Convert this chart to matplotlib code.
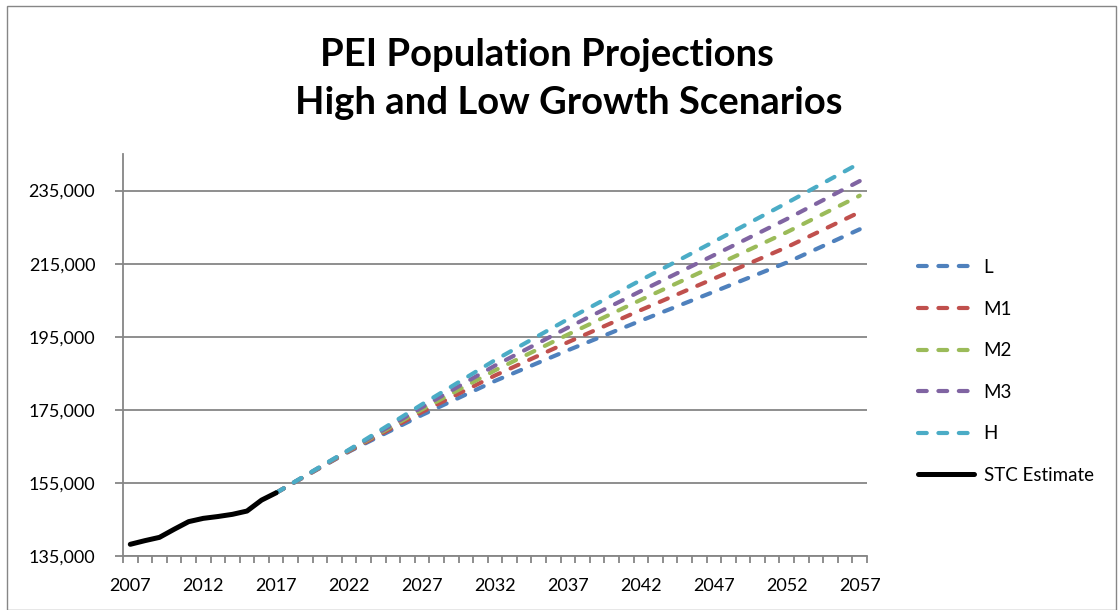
import matplotlib
matplotlib.use("Agg")
import matplotlib.pyplot as plt
from matplotlib.ticker import FuncFormatter, FixedLocator
from matplotlib.patches import Rectangle

plt.rcParams['font.family'] = ['Lato', 'DejaVu Sans']

# ---- data ----
stc_years = [2007, 2008, 2009, 2010, 2011, 2012, 2013, 2014, 2015, 2016, 2017]
stc_values = [138200, 139200, 140100, 142300, 144400, 145300, 145800, 146400, 147300, 150300, 152300]

proj_years = [2017, 2022, 2027, 2032, 2037, 2042, 2047, 2052, 2057]
L_values = [152300, 163600, 173600, 182900, 191300, 199400, 207300, 215300, 224400]
M1_values = [152300, 163700, 174400, 184400, 193500, 202300, 210900, 219500, 229100]
M2_values = [152300, 163900, 175100, 185800, 195600, 205100, 214300, 223600, 233600]
M3_values = [152300, 164000, 175700, 187100, 197500, 207500, 217300, 227200, 237600]
H_values = [152300, 164100, 176500, 188600, 199800, 210500, 221000, 231600, 242500]

series_names = ['L', 'M1', 'M2', 'M3', 'H']
series_values = [L_values, M1_values, M2_values, M3_values, H_values]
series_colors = ['#4F81BD', '#C0504D', '#9BBB59', '#8064A2', '#4BACC6']
stc_name = 'STC Estimate'

x_label_years = [2007, 2012, 2017, 2022, 2027, 2032, 2037, 2042, 2047, 2052, 2057]
y_ticks = [135000, 155000, 175000, 195000, 215000, 235000]

# ---- figure ----
W, H = 1120, 610
fig = plt.figure(figsize=(W / 100, H / 100), dpi=100)
fig.patch.set_facecolor('white')

# chart border
fig.patches.append(Rectangle((7 / W, 0.5 / H), (1116 - 7) / W, (604 - 0.5) / H,
                             transform=fig.transFigure, fill=False,
                             edgecolor='#868686', linewidth=1.0))

left, right, top, bottom = 123, 867, 154, 556
ax = fig.add_axes([left / W, 1 - bottom / H, (right - left) / W, (bottom - top) / H])

grid_col = '#868686'
for name, vals, col in zip(series_names, series_values, series_colors):
    ax.plot(proj_years, vals, color=col, lw=3.0, linestyle=(0, (2.1, 2.8)),
            dash_capstyle='round', solid_capstyle='round', label=name, zorder=3)
ax.plot(stc_years, stc_values, color='black', lw=3.6, solid_capstyle='round',
        solid_joinstyle='round', label=stc_name, zorder=4)

ax.set_xlim(2006.5, 2057.5)
ax.set_ylim(135000, 245000)

ax.set_yticks(y_ticks)
ax.yaxis.set_major_formatter(FuncFormatter(lambda v, p: f"{int(v):,}"))
ax.set_xticks(x_label_years)
ax.set_xticklabels([str(y) for y in x_label_years])
ax.xaxis.set_minor_locator(FixedLocator([2006.5 + k for k in range(52)]))

for s in ['top', 'right']:
    ax.spines[s].set_visible(False)
for s in ['left', 'bottom']:
    ax.spines[s].set_color(grid_col)
    ax.spines[s].set_linewidth(1.3)

ax.grid(axis='y', color=grid_col, linewidth=1.3, zorder=1)
ax.set_axisbelow(True)
ax.tick_params(axis='y', direction='out', length=6, width=1.3, color=grid_col,
               labelsize=13, pad=14, labelcolor='black')
ax.tick_params(axis='x', which='major', length=0, labelsize=13, pad=16, labelcolor='black')
ax.tick_params(axis='x', which='minor', direction='out', length=5, width=1.3, color=grid_col)

# title
fig.text(547 / W, 1 - 66 / H, 'PEI Population Projections', ha='center', va='baseline',
         fontsize=27.5, fontweight='bold')
fig.text(569 / W, 1 - 114 / H, 'High and Low Growth Scenarios', ha='center', va='baseline',
         fontsize=27.5, fontweight='bold')

leg = ax.legend(loc='upper left', bbox_to_anchor=(918 / W, 1 - 259 / H),
                bbox_transform=fig.transFigure, frameon=False, fontsize=13.5,
                handlelength=3.0, handletextpad=0.5, labelspacing=1.31,
                borderaxespad=0, borderpad=0)

fig.savefig('out.png', dpi=100)
